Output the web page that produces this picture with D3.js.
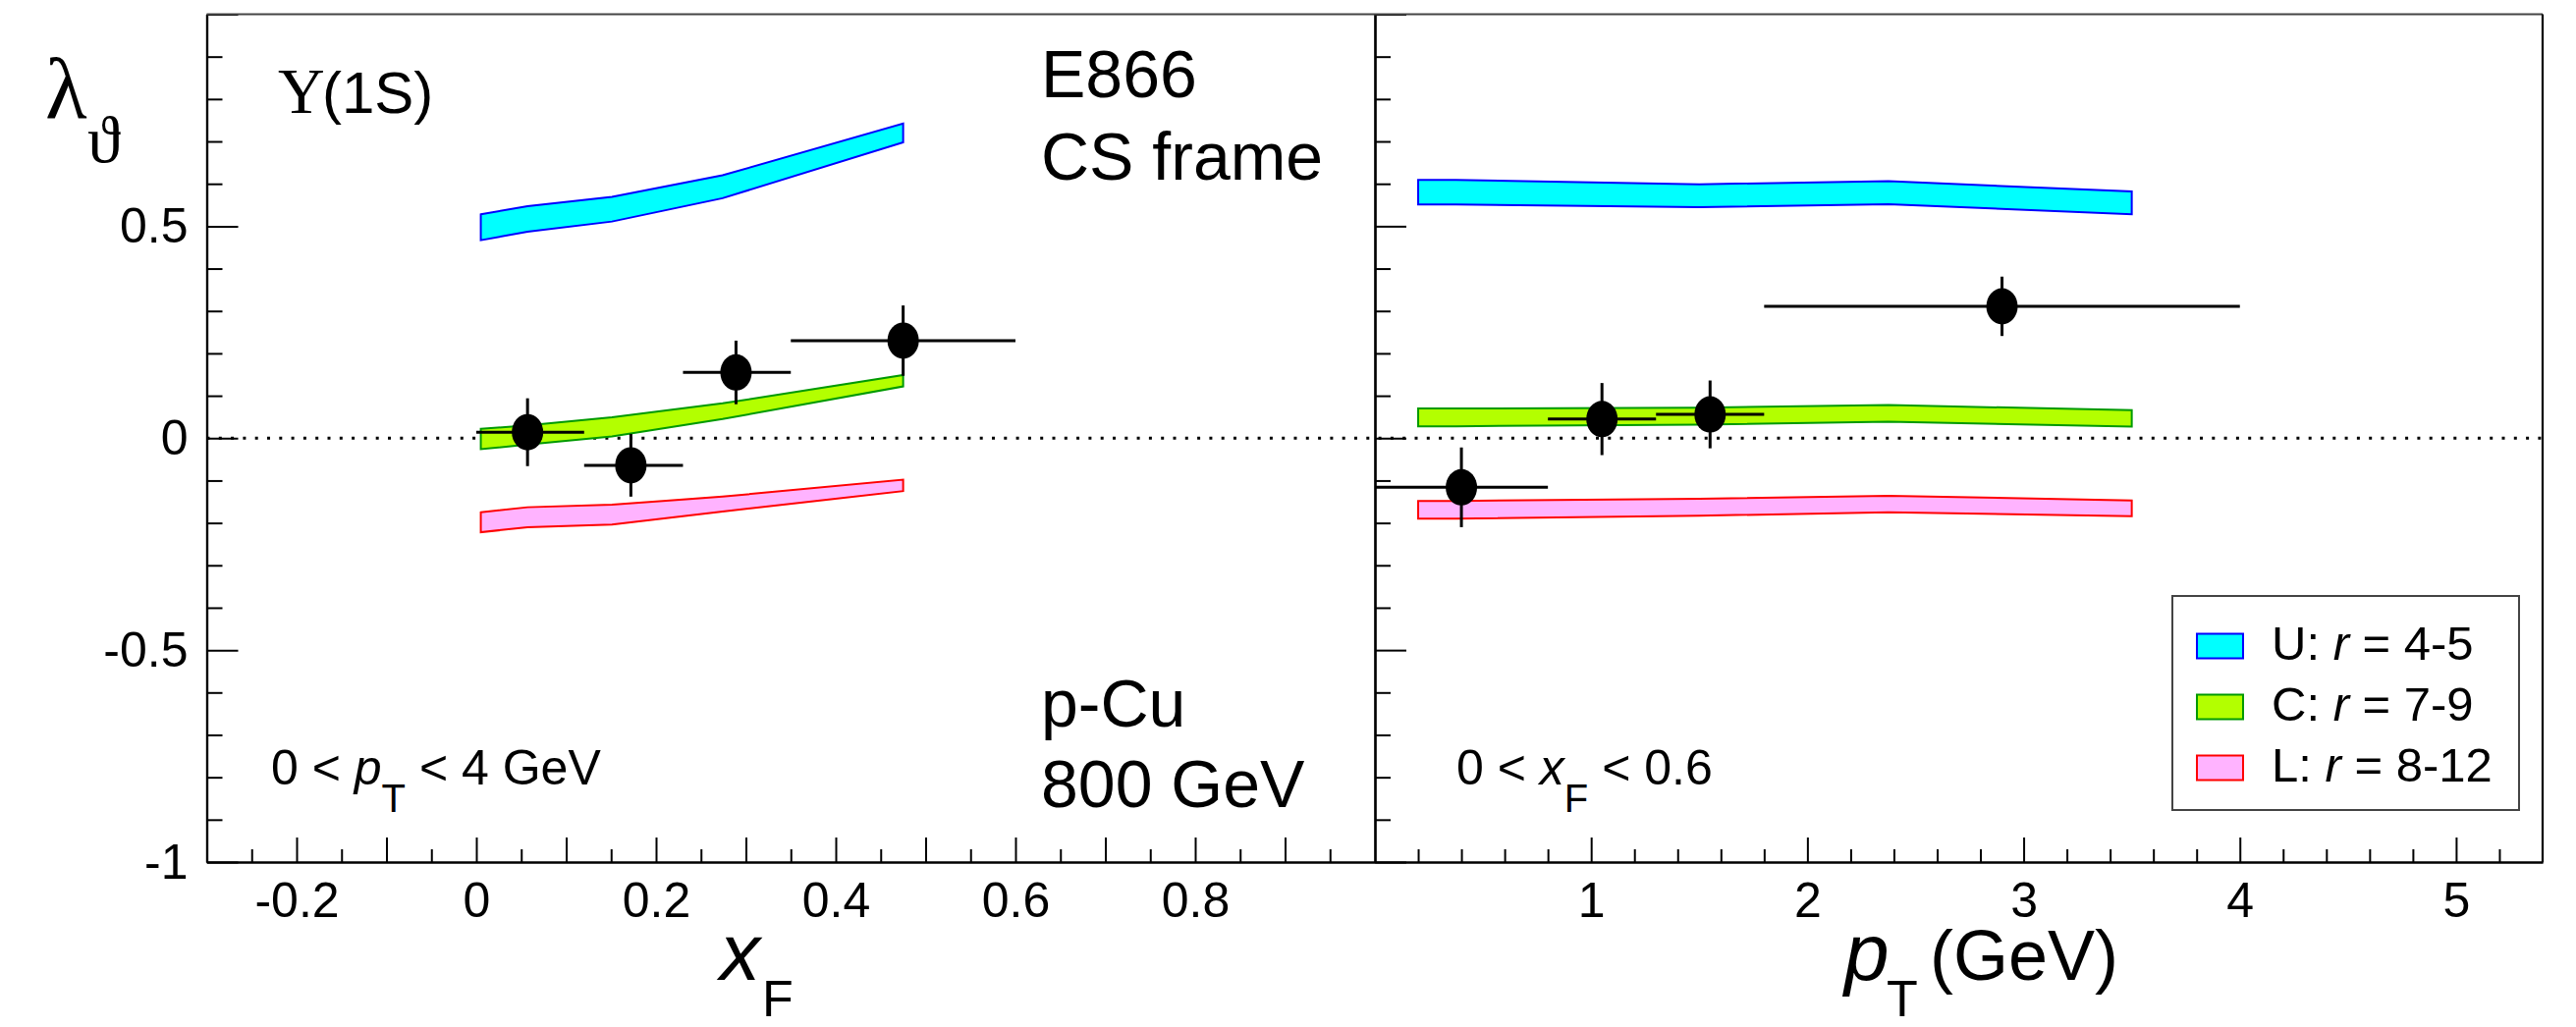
<!DOCTYPE html>
<html>
<head>
<meta charset="utf-8">
<script src="https://cdn.jsdelivr.net/npm/d3@7"></script>
<style>
  body { margin: 0; background: #fff; }
  svg { display: block; }
  text { font-family: "Liberation Sans", Arial, sans-serif; fill: #000; }
</style>
</head>
<body>
<svg id="chart"></svg>
<script>
// ---- data ----
// left panel: lambda_theta vs xF
var xfBandX = [0.005, 0.057, 0.151, 0.274, 0.475];
var xfU_hi = [0.528, 0.547, 0.569, 0.620, 0.742];
var xfU_lo = [0.467, 0.487, 0.511, 0.566, 0.698];
var xfC_hi = [0.022, 0.030, 0.049, 0.082, 0.149];
var xfC_lo = [-0.026, -0.015, 0.004, 0.045, 0.122];
var xfL_hi = [-0.175, -0.163, -0.157, -0.138, -0.098];
var xfL_lo = [-0.222, -0.210, -0.204, -0.173, -0.125];

var xfPts = [0.057, 0.172, 0.289, 0.475];
var xfVals = [0.014, -0.064, 0.155, 0.230];
var xfErr = [0.080, 0.074, 0.075, 0.083];
var xfLo = [0.0, 0.12, 0.23, 0.35];
var xfHi = [0.12, 0.23, 0.35, 0.60];

// right panel: lambda_theta vs pT
var ptBandX = [0.2, 0.375, 1.5, 2.375, 3.5];
var ptU_hi = [0.609, 0.609, 0.599, 0.606, 0.582];
var ptU_lo = [0.551, 0.551, 0.545, 0.552, 0.528];
var ptC_hi = [0.070, 0.070, 0.072, 0.078, 0.066];
var ptC_lo = [0.028, 0.028, 0.032, 0.039, 0.027];
var ptL_hi = [-0.148, -0.148, -0.143, -0.136, -0.147];
var ptL_lo = [-0.190, -0.190, -0.183, -0.175, -0.184];

var ptPts = [0.40, 1.05, 1.55, 2.90];
var ptVals = [-0.116, 0.045, 0.056, 0.311];
var ptErr = [0.094, 0.085, 0.080, 0.070];
var ptLo = [0.0, 0.8, 1.3, 1.8];
var ptHi = [0.8, 1.3, 1.8, 4.0];

// ticks
var yMajor = [-1, -0.5, 0, 0.5, 1];
var yMinor = [-0.9, -0.8, -0.7, -0.6, -0.4, -0.3, -0.2, -0.1, 0.1, 0.2, 0.3, 0.4, 0.6, 0.7, 0.8, 0.9];
var xfMajor = [-0.2, -0.1, 0, 0.1, 0.2, 0.3, 0.4, 0.5, 0.6, 0.7, 0.8, 0.9];
var xfLabels = [-0.2, 0, 0.2, 0.4, 0.6, 0.8];
var xfMinor = [-0.25, -0.15, -0.05, 0.05, 0.15, 0.25, 0.35, 0.45, 0.55, 0.65, 0.75, 0.85, 0.95];
var ptMajor = [1, 2, 3, 4, 5];
var ptMinor = [0.2, 0.4, 0.6, 0.8, 1.2, 1.4, 1.6, 1.8, 2.2, 2.4, 2.6, 2.8, 3.2, 3.4, 3.6, 3.8, 4.2, 4.4, 4.6, 4.8, 5.2];

var bandNames = ["U: ", "C: ", "L: "];
var bandRanges = [" = 4-5", " = 7-9", " = 8-12"];
var bandFill = ["#00ffff", "#b3ff00", "#ffb3ff"];
var bandStroke = ["#0000ff", "#009a00", "#ff0000"];

// ---- layout ----
var W = 2623, H = 1046;
var svg = d3.select("#chart").attr("width", W).attr("height", H);
svg.append("rect").attr("width", W).attr("height", H).attr("fill", "#fff");

var y = d3.scaleLinear().domain([-1, 1]).range([878, 14.5]);
var xL = d3.scaleLinear().domain([-0.3, 1.0]).range([210.5, 1400]);
var xR = d3.scaleLinear().domain([0, 5.4]).range([1400, 2589]);

// dotted zero line across both panels
svg.append("line")
  .attr("x1", xL(-0.3)).attr("x2", xR(5.4))
  .attr("y1", y(0)).attr("y2", y(0))
  .attr("stroke", "#000").attr("stroke-width", 3)
  .attr("stroke-dasharray", "3,9.3");

function drawBands(x, bx, his, los) {
  for (var k = 0; k < 3; k++) {
    var pts = bx.map(function(v, i) { return { x: v, hi: his[k][i], lo: los[k][i] }; });
    var area = d3.area()
      .x(function(d) { return x(d.x); })
      .y0(function(d) { return y(d.lo); })
      .y1(function(d) { return y(d.hi); });
    svg.append("path")
      .datum(pts)
      .attr("d", area)
      .attr("fill", bandFill[k])
      .attr("stroke", bandStroke[k])
      .attr("stroke-width", 2)
      .attr("stroke-linejoin", "miter");
  }
}

drawBands(xL, xfBandX, [xfU_hi, xfC_hi, xfL_hi], [xfU_lo, xfC_lo, xfL_lo]);
drawBands(xR, ptBandX, [ptU_hi, ptC_hi, ptL_hi], [ptU_lo, ptC_lo, ptL_lo]);

function drawPoints(x, px, vals, err, lo, hi) {
  var data = px.map(function(v, i) { return { x: v, y: vals[i], e: err[i], lo: lo[i], hi: hi[i] }; });
  var g = svg.append("g");
  g.selectAll(".eh").data(data).enter().append("line")
    .attr("x1", function(d) { return x(d.lo); })
    .attr("x2", function(d) { return x(d.hi); })
    .attr("y1", function(d) { return y(d.y); })
    .attr("y2", function(d) { return y(d.y); })
    .attr("stroke", "#000").attr("stroke-width", 3);
  g.selectAll(".ev").data(data).enter().append("line")
    .attr("x1", function(d) { return x(d.x); })
    .attr("x2", function(d) { return x(d.x); })
    .attr("y1", function(d) { return y(d.y + d.e); })
    .attr("y2", function(d) { return y(d.y - d.e); })
    .attr("stroke", "#000").attr("stroke-width", 3);
  g.selectAll("ellipse").data(data).enter().append("ellipse")
    .attr("cx", function(d) { return x(d.x); })
    .attr("cy", function(d) { return y(d.y); })
    .attr("rx", 16).attr("ry", 18.5)
    .attr("fill", "#000");
}

drawPoints(xL, xfPts, xfVals, xfErr, xfLo, xfHi);
drawPoints(xR, ptPts, ptVals, ptErr, ptLo, ptHi);

// ---- axes ----
function styleAxis(g) {
  g.attr("font-size", 50).attr("font-family", '"Liberation Sans", Arial, sans-serif');
  g.selectAll("line").attr("stroke", "#000").attr("stroke-width", 2);
  g.selectAll("path").attr("stroke", "#000").attr("stroke-width", 2.2);
}

// left y axis
svg.append("g").attr("transform", "translate(" + xL(-0.3) + ",0)")
  .call(d3.axisLeft(y).tickValues(yMajor).tickSize(-32).tickSizeOuter(0).tickPadding(19)
    .tickFormat(function(d) { return d === 1 ? "" : String(d); }))
  .call(styleAxis);
svg.append("g").attr("transform", "translate(" + xL(-0.3) + ",0)")
  .call(d3.axisLeft(y).tickValues(yMinor).tickSize(-16).tickSizeOuter(0).tickFormat(""))
  .call(styleAxis);

// right y axis (shared divider)
svg.append("g").attr("transform", "translate(" + xR(0) + ",0)")
  .call(d3.axisLeft(y).tickValues(yMajor).tickSize(-32).tickSizeOuter(0).tickFormat(""))
  .call(styleAxis);
svg.append("g").attr("transform", "translate(" + xR(0) + ",0)")
  .call(d3.axisLeft(y).tickValues(yMinor).tickSize(-16).tickSizeOuter(0).tickFormat(""))
  .call(styleAxis);

// left x axis
svg.append("g").attr("transform", "translate(0," + y(-1) + ")")
  .call(d3.axisBottom(xL).tickValues(xfMajor).tickSize(-25).tickSizeOuter(0).tickPadding(20)
    .tickFormat(function(d) {
      return xfLabels.some(function(v) { return Math.abs(v - d) < 1e-9; }) ? String(d) : "";
    }))
  .call(styleAxis);
svg.append("g").attr("transform", "translate(0," + y(-1) + ")")
  .call(d3.axisBottom(xL).tickValues(xfMinor).tickSize(-13).tickSizeOuter(0).tickFormat(""))
  .call(styleAxis);

// right x axis
svg.append("g").attr("transform", "translate(0," + y(-1) + ")")
  .call(d3.axisBottom(xR).tickValues(ptMajor).tickSize(-25).tickSizeOuter(0).tickPadding(20)
    .tickFormat(function(d) { return String(d); }))
  .call(styleAxis);
svg.append("g").attr("transform", "translate(0," + y(-1) + ")")
  .call(d3.axisBottom(xR).tickValues(ptMinor).tickSize(-13).tickSizeOuter(0).tickFormat(""))
  .call(styleAxis);

// frame: top and right edges
svg.append("line").attr("x1", xL(-0.3)).attr("x2", xR(5.4))
  .attr("y1", y(1)).attr("y2", y(1))
  .attr("stroke", "#444").attr("stroke-width", 2);
svg.append("line").attr("x1", xR(5.4)).attr("x2", xR(5.4))
  .attr("y1", y(1)).attr("y2", y(-1))
  .attr("stroke", "#000").attr("stroke-width", 2.2);

// ---- labels ----
// y axis title: lambda_theta
svg.append("text").attr("x", 46).attr("y", 121)
  .style("font-family", '"Liberation Serif", serif').attr("font-size", 88).text("λ");
svg.append("text").attr("x", 89).attr("y", 165)
  .style("font-family", '"Liberation Serif", serif').attr("font-size", 68).text("ϑ");

// Upsilon(1S)
svg.append("text").attr("x", 283).attr("y", 115)
  .style("font-family", '"Liberation Serif", serif').attr("font-size", 66).text("Υ");
svg.append("text").attr("x", 328).attr("y", 115).attr("font-size", 60).text("(1S)");

// experiment info
svg.append("text").attr("x", 1060).attr("y", 99).attr("font-size", 68).text("E866");
svg.append("text").attr("x", 1060).attr("y", 183).attr("font-size", 68).text("CS frame");
svg.append("text").attr("x", 1060).attr("y", 740).attr("font-size", 68).text("p-Cu");
svg.append("text").attr("x", 1060).attr("y", 822).attr("font-size", 68).text("800 GeV");

// kinematic ranges
var t1 = svg.append("text").attr("x", 276).attr("y", 799).attr("font-size", 50);
t1.append("tspan").text("0 < ");
t1.append("tspan").style("font-style", "italic").text("p");
t1.append("tspan").attr("dy", 28).attr("font-size", 40).text("T");
t1.append("tspan").attr("dy", -28).text(" < 4 GeV");

var t2 = svg.append("text").attr("x", 1483).attr("y", 799).attr("font-size", 50);
t2.append("tspan").text("0 < ");
t2.append("tspan").style("font-style", "italic").text("x");
t2.append("tspan").attr("dy", 28).attr("font-size", 40).text("F");
t2.append("tspan").attr("dy", -28).text(" < 0.6");

// axis titles
svg.append("text").attr("x", 733).attr("y", 998).attr("font-size", 82)
  .style("font-style", "italic").text("x");
svg.append("text").attr("x", 776).attr("y", 1035).attr("font-size", 52).text("F");

svg.append("text").attr("x", 1878).attr("y", 998).attr("font-size", 82)
  .style("font-style", "italic").text("p");
svg.append("text").attr("x", 1921).attr("y", 1035).attr("font-size", 52).text("T");
svg.append("text").attr("x", 1965).attr("y", 998).attr("font-size", 72).text("(GeV)");

// ---- legend ----
var leg = svg.append("g");
leg.append("rect").attr("x", 2212).attr("y", 607).attr("width", 353).attr("height", 218)
  .attr("fill", "#fff").attr("stroke", "#444").attr("stroke-width", 2);
bandNames.forEach(function(name, i) {
  var cy = 658 + i * 62;
  leg.append("rect").attr("x", 2237).attr("y", cy - 12.5).attr("width", 47).attr("height", 25)
    .attr("fill", bandFill[i]).attr("stroke", bandStroke[i]).attr("stroke-width", 2);
  var t = leg.append("text").attr("x", 2313).attr("y", cy + 14).attr("font-size", 49);
  t.append("tspan").text(name);
  t.append("tspan").style("font-style", "italic").text("r");
  t.append("tspan").text(bandRanges[i]);
});
</script>
</body>
</html>
